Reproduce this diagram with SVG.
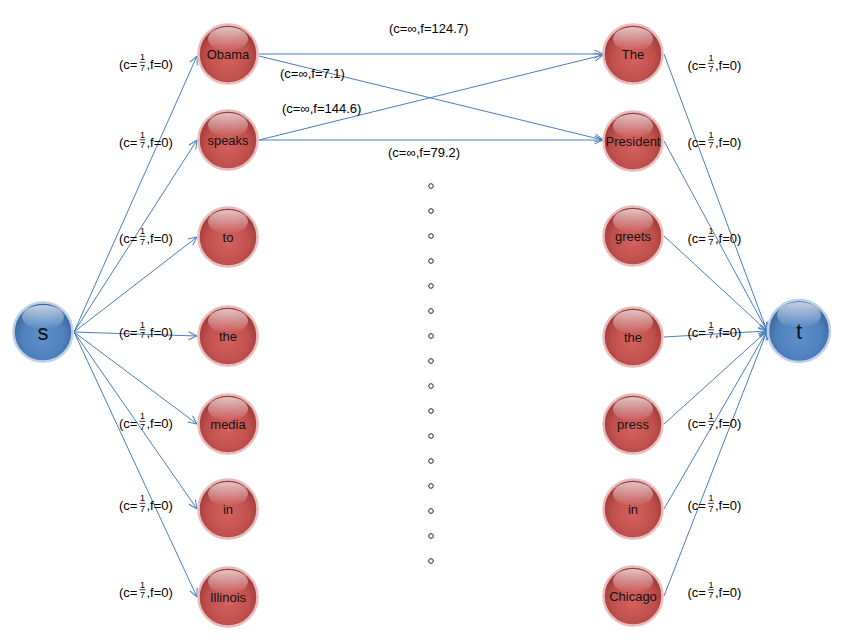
<svg xmlns="http://www.w3.org/2000/svg" width="852" height="642" viewBox="0 0 852 642">
<defs>
<radialGradient id="gRed" cx="50%" cy="58%" r="55%">
<stop offset="0" stop-color="#d4625e"/>
<stop offset="0.65" stop-color="#c0504d"/>
<stop offset="1" stop-color="#9e3a37"/>
</radialGradient>
<radialGradient id="gBlue" cx="50%" cy="58%" r="55%">
<stop offset="0" stop-color="#6090cc"/>
<stop offset="0.65" stop-color="#4f81bd"/>
<stop offset="1" stop-color="#3a669c"/>
</radialGradient>
<linearGradient id="hl" x1="0" y1="0" x2="0" y2="1">
<stop offset="0" stop-color="#fff" stop-opacity="0.7"/>
<stop offset="1" stop-color="#fff" stop-opacity="0"/>
</linearGradient>
<marker id="arr" viewBox="0 0 10 10" refX="9.5" refY="5" markerWidth="10" markerHeight="10" markerUnits="userSpaceOnUse" orient="auto">
<path d="M1,1 L9.5,5 L1,9" fill="none" stroke="#4a7ebb" stroke-width="1"/>
</marker>
</defs>
<style>
.e{stroke:#4a7ebb;stroke-width:1;fill:none;marker-end:url(#arr)}
.ring-r{fill:url(#gRed);stroke:#e8bcbb;stroke-width:2.5}
.ring-b{fill:url(#gBlue);stroke:#bcd0e8;stroke-width:2.5}
.hl{fill:url(#hl)}
.nt{font-family:"Liberation Sans",Arial,sans-serif;font-size:13px;fill:#111;text-anchor:middle}
.big{font-family:"Liberation Sans",Arial,sans-serif;font-size:22px;fill:#111;text-anchor:middle}
.lb{font-family:"Liberation Sans",Arial,sans-serif;font-size:13px;fill:#000}
.fr{font-family:"Liberation Sans",Arial,sans-serif;font-size:9px;fill:#000;text-anchor:middle}
.bar{stroke:#000;stroke-width:0.8}
.dot{fill:none;stroke:#222;stroke-width:1}
</style>
<rect width="852" height="642" fill="#fff"/>

<g id="connectors">
<line class="e" x1="74" y1="332" x2="197" y2="56"/>
<line class="e" x1="74" y1="332" x2="197" y2="140"/>
<line class="e" x1="74" y1="332" x2="197" y2="237"/>
<line class="e" x1="74" y1="332" x2="197" y2="336"/>
<line class="e" x1="74" y1="332" x2="197" y2="424"/>
<line class="e" x1="74" y1="332" x2="197" y2="509"/>
<line class="e" x1="74" y1="332" x2="197" y2="597"/>
<line class="e" x1="259" y1="54" x2="603" y2="54"/>
<line class="e" x1="259" y1="56" x2="603" y2="140"/>
<line class="e" x1="259" y1="140" x2="603" y2="55"/>
<line class="e" x1="259" y1="140" x2="603" y2="140"/>
<line class="e" x1="664" y1="54" x2="767" y2="331"/>
<line class="e" x1="664" y1="141" x2="767" y2="331"/>
<line class="e" x1="664" y1="236" x2="767" y2="331"/>
<line class="e" x1="664" y1="337" x2="767" y2="331"/>
<line class="e" x1="664" y1="424" x2="767" y2="331"/>
<line class="e" x1="664" y1="509" x2="767" y2="331"/>
<line class="e" x1="664" y1="596" x2="767" y2="331"/>
</g>

<g id="node-s" transform="translate(43,332)"><circle class="ring-b" r="29.5"/><ellipse class="hl" cx="0" cy="-15" rx="21" ry="12"/><text class="big" y="7.5">s</text></g>
<g id="node-t" transform="translate(799,331)"><circle class="ring-b" r="31"/><ellipse class="hl" cx="0" cy="-16" rx="22" ry="13"/><text class="big" y="7.5">t</text></g>

<g id="node-obama" transform="translate(228,54)"><circle class="ring-r" r="29.5"/><ellipse class="hl" cx="0" cy="-15" rx="20" ry="12"/><text class="nt" y="4.5">Obama</text></g>
<g id="node-speaks" transform="translate(228,140)"><circle class="ring-r" r="29.5"/><ellipse class="hl" cx="0" cy="-15" rx="20" ry="12"/><text class="nt" y="4.5">speaks</text></g>
<g id="node-to" transform="translate(228,237)"><circle class="ring-r" r="29.5"/><ellipse class="hl" cx="0" cy="-15" rx="20" ry="12"/><text class="nt" y="4.5">to</text></g>
<g id="node-the-l" transform="translate(228,336)"><circle class="ring-r" r="29.5"/><ellipse class="hl" cx="0" cy="-15" rx="20" ry="12"/><text class="nt" y="4.5">the</text></g>
<g id="node-media" transform="translate(228,424)"><circle class="ring-r" r="29.5"/><ellipse class="hl" cx="0" cy="-15" rx="20" ry="12"/><text class="nt" y="4.5">media</text></g>
<g id="node-in-l" transform="translate(228,509)"><circle class="ring-r" r="29.5"/><ellipse class="hl" cx="0" cy="-15" rx="20" ry="12"/><text class="nt" y="4.5">in</text></g>
<g id="node-illinois" transform="translate(228,597)"><circle class="ring-r" r="29.5"/><ellipse class="hl" cx="0" cy="-15" rx="20" ry="12"/><text class="nt" y="4.5">Illinois</text></g>

<g id="node-The" transform="translate(633,54)"><circle class="ring-r" r="29.5"/><ellipse class="hl" cx="0" cy="-15" rx="20" ry="12"/><text class="nt" y="4.5">The</text></g>
<g id="node-president" transform="translate(633,141)"><circle class="ring-r" r="29.5"/><ellipse class="hl" cx="0" cy="-15" rx="20" ry="12"/><text class="nt" y="4.5">President</text></g>
<g id="node-greets" transform="translate(633,236)"><circle class="ring-r" r="29.5"/><ellipse class="hl" cx="0" cy="-15" rx="20" ry="12"/><text class="nt" y="4.5">greets</text></g>
<g id="node-the-r" transform="translate(633,337)"><circle class="ring-r" r="29.5"/><ellipse class="hl" cx="0" cy="-15" rx="20" ry="12"/><text class="nt" y="4.5">the</text></g>
<g id="node-press" transform="translate(633,424)"><circle class="ring-r" r="29.5"/><ellipse class="hl" cx="0" cy="-15" rx="20" ry="12"/><text class="nt" y="4.5">press</text></g>
<g id="node-in-r" transform="translate(633,509)"><circle class="ring-r" r="29.5"/><ellipse class="hl" cx="0" cy="-15" rx="20" ry="12"/><text class="nt" y="4.5">in</text></g>
<g id="node-chicago" transform="translate(633,596)"><circle class="ring-r" r="29.5"/><ellipse class="hl" cx="0" cy="-15" rx="20" ry="12"/><text class="nt" y="4.5">Chicago</text></g>

<g id="labels-left">
<g transform="translate(119,69)"><text class="lb">(c=</text><text class="fr" x="23.5" y="-8.7">1</text><line class="bar" x1="20.5" y1="-6.7" x2="26.5" y2="-6.7"/><text class="fr" x="23.5" y="1.7">7</text><text class="lb" x="27.5">,f=0)</text></g>
<g transform="translate(119,146.5)"><text class="lb">(c=</text><text class="fr" x="23.5" y="-8.7">1</text><line class="bar" x1="20.5" y1="-6.7" x2="26.5" y2="-6.7"/><text class="fr" x="23.5" y="1.7">7</text><text class="lb" x="27.5">,f=0)</text></g>
<g transform="translate(119,243)"><text class="lb">(c=</text><text class="fr" x="23.5" y="-8.7">1</text><line class="bar" x1="20.5" y1="-6.7" x2="26.5" y2="-6.7"/><text class="fr" x="23.5" y="1.7">7</text><text class="lb" x="27.5">,f=0)</text></g>
<g transform="translate(119,336.5)"><text class="lb">(c=</text><text class="fr" x="23.5" y="-8.7">1</text><line class="bar" x1="20.5" y1="-6.7" x2="26.5" y2="-6.7"/><text class="fr" x="23.5" y="1.7">7</text><text class="lb" x="27.5">,f=0)</text></g>
<g transform="translate(119,428)"><text class="lb">(c=</text><text class="fr" x="23.5" y="-8.7">1</text><line class="bar" x1="20.5" y1="-6.7" x2="26.5" y2="-6.7"/><text class="fr" x="23.5" y="1.7">7</text><text class="lb" x="27.5">,f=0)</text></g>
<g transform="translate(119,510)"><text class="lb">(c=</text><text class="fr" x="23.5" y="-8.7">1</text><line class="bar" x1="20.5" y1="-6.7" x2="26.5" y2="-6.7"/><text class="fr" x="23.5" y="1.7">7</text><text class="lb" x="27.5">,f=0)</text></g>
<g transform="translate(119,596.5)"><text class="lb">(c=</text><text class="fr" x="23.5" y="-8.7">1</text><line class="bar" x1="20.5" y1="-6.7" x2="26.5" y2="-6.7"/><text class="fr" x="23.5" y="1.7">7</text><text class="lb" x="27.5">,f=0)</text></g>
</g>

<g id="labels-right">
<g transform="translate(687.5,70)"><text class="lb">(c=</text><text class="fr" x="23.5" y="-8.7">1</text><line class="bar" x1="20.5" y1="-6.7" x2="26.5" y2="-6.7"/><text class="fr" x="23.5" y="1.7">7</text><text class="lb" x="27.5">,f=0)</text></g>
<g transform="translate(687.5,146.5)"><text class="lb">(c=</text><text class="fr" x="23.5" y="-8.7">1</text><line class="bar" x1="20.5" y1="-6.7" x2="26.5" y2="-6.7"/><text class="fr" x="23.5" y="1.7">7</text><text class="lb" x="27.5">,f=0)</text></g>
<g transform="translate(687.5,243)"><text class="lb">(c=</text><text class="fr" x="23.5" y="-8.7">1</text><line class="bar" x1="20.5" y1="-6.7" x2="26.5" y2="-6.7"/><text class="fr" x="23.5" y="1.7">7</text><text class="lb" x="27.5">,f=0)</text></g>
<g transform="translate(687.5,336.5)"><text class="lb">(c=</text><text class="fr" x="23.5" y="-8.7">1</text><line class="bar" x1="20.5" y1="-6.7" x2="26.5" y2="-6.7"/><text class="fr" x="23.5" y="1.7">7</text><text class="lb" x="27.5">,f=0)</text></g>
<g transform="translate(687.5,428)"><text class="lb">(c=</text><text class="fr" x="23.5" y="-8.7">1</text><line class="bar" x1="20.5" y1="-6.7" x2="26.5" y2="-6.7"/><text class="fr" x="23.5" y="1.7">7</text><text class="lb" x="27.5">,f=0)</text></g>
<g transform="translate(687.5,510)"><text class="lb">(c=</text><text class="fr" x="23.5" y="-8.7">1</text><line class="bar" x1="20.5" y1="-6.7" x2="26.5" y2="-6.7"/><text class="fr" x="23.5" y="1.7">7</text><text class="lb" x="27.5">,f=0)</text></g>
<g transform="translate(687.5,596.5)"><text class="lb">(c=</text><text class="fr" x="23.5" y="-8.7">1</text><line class="bar" x1="20.5" y1="-6.7" x2="26.5" y2="-6.7"/><text class="fr" x="23.5" y="1.7">7</text><text class="lb" x="27.5">,f=0)</text></g>
</g>

<g id="labels-middle">
<text class="lb" x="389" y="33">(c=∞,f=124.7)</text>
<text class="lb" x="280" y="78">(c=∞,f=7.1)</text>
<text class="lb" x="282" y="112.5">(c=∞,f=144.6)</text>
<text class="lb" x="388" y="156.5">(c=∞,f=79.2)</text>
</g>

<g id="ellipsis">
<circle class="dot" cx="431" cy="186" r="2.3"/>
<circle class="dot" cx="431" cy="211" r="2.3"/>
<circle class="dot" cx="431" cy="236" r="2.3"/>
<circle class="dot" cx="431" cy="261" r="2.3"/>
<circle class="dot" cx="431" cy="286" r="2.3"/>
<circle class="dot" cx="431" cy="311" r="2.3"/>
<circle class="dot" cx="431" cy="336" r="2.3"/>
<circle class="dot" cx="431" cy="361" r="2.3"/>
<circle class="dot" cx="431" cy="386" r="2.3"/>
<circle class="dot" cx="431" cy="411" r="2.3"/>
<circle class="dot" cx="431" cy="436" r="2.3"/>
<circle class="dot" cx="431" cy="461" r="2.3"/>
<circle class="dot" cx="431" cy="486" r="2.3"/>
<circle class="dot" cx="431" cy="511" r="2.3"/>
<circle class="dot" cx="431" cy="536" r="2.3"/>
<circle class="dot" cx="431" cy="561" r="2.3"/>
</g>
</svg>
